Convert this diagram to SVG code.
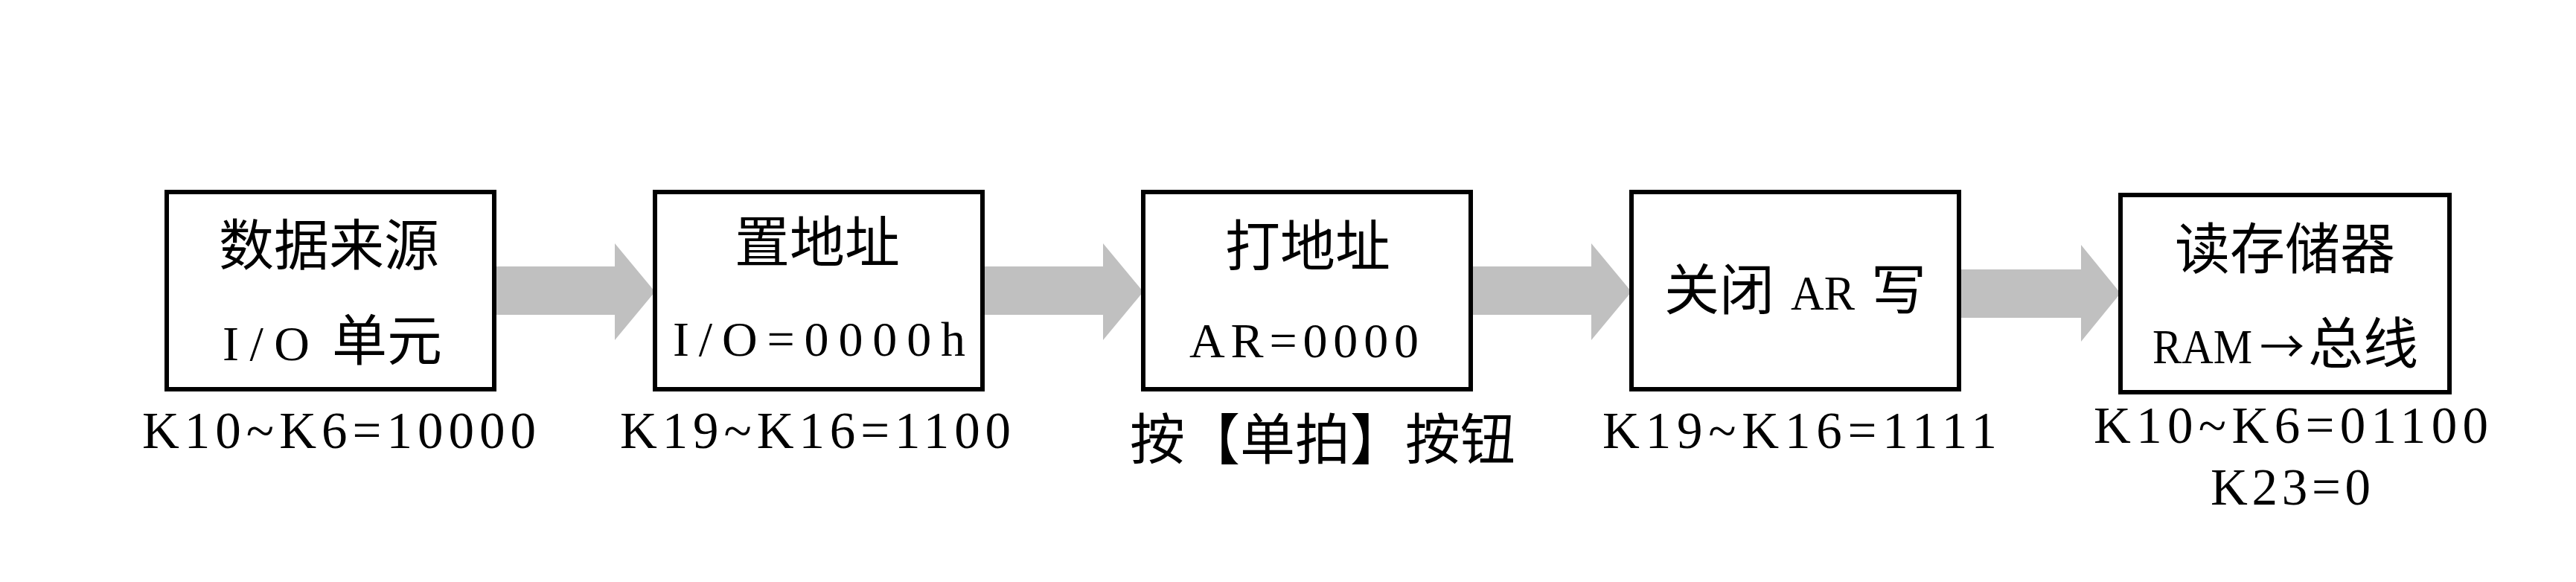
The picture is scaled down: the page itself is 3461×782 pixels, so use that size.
<svg xmlns="http://www.w3.org/2000/svg" width="3461" height="782" viewBox="0 0 3461 782">
<style>
.box{fill:#ffffff;stroke:#000000;stroke-width:6}
.arr{fill:#c0c0c0;stroke:none}
.cjk{font-family:"Noto Sans CJK SC","Noto Sans CJK JP",sans-serif;font-size:74px;fill:#000}
.mono{font-family:"Liberation Serif","DejaVu Serif",serif;font-size:66px;fill:#000}
.lbl{font-family:"Liberation Serif","DejaVu Serif",serif;font-size:69px;fill:#000}
</style>
<rect x="0" y="0" width="3461" height="782" fill="#ffffff"/>
<g id="connectors">
<polygon class="arr" points="664,358 826,358 826,327 880,392 826,457 826,423 664,423"/>
<polygon class="arr" points="1320,358 1482,358 1482,327 1536,392 1482,457 1482,423 1320,423"/>
<polygon class="arr" points="1976,358 2138,358 2138,327 2192,392 2138,457 2138,423 1976,423"/>
<polygon class="arr" points="2632,362 2796,362 2796,329 2849,394 2796,459 2796,427 2632,427"/>
</g>
<g id="node1">
<rect class="box" x="224" y="258" width="440" height="265"/>
<text class="cjk" x="442" y="356" text-anchor="middle">数据来源</text>
<text class="cjk" y="484"><tspan class="mono" x="299" textLength="117" lengthAdjust="spacing">I/O</tspan><tspan x="446">单元</tspan></text>
</g>
<g id="node2">
<rect class="box" x="880" y="258" width="440" height="265"/>
<text class="cjk" x="1098" y="352" text-anchor="middle">置地址</text>
<text class="mono" x="904" y="478" textLength="393" lengthAdjust="spacing">I/O=0000h</text>
</g>
<g id="node3">
<rect class="box" x="1536" y="258" width="440" height="265"/>
<text class="cjk" x="1757" y="357" text-anchor="middle">打地址</text>
<text class="mono" x="1598" y="480" textLength="308" lengthAdjust="spacing">AR=0000</text>
</g>
<g id="node4">
<rect class="box" x="2192" y="258" width="440" height="265"/>
<text class="cjk" y="416"><tspan x="2236">关闭</tspan><tspan class="mono" x="2406" textLength="86" lengthAdjust="spacingAndGlyphs">AR</tspan><tspan x="2514">写</tspan></text>
</g>
<g id="node5">
<rect class="box" x="2849" y="262" width="442" height="265"/>
<text class="cjk" x="3070" y="361" text-anchor="middle">读存储器</text>
<text class="cjk" y="488"><tspan class="mono" x="2892" font-size="60" textLength="134" lengthAdjust="spacingAndGlyphs">RAM</tspan><tspan x="3036" font-size="60">→</tspan><tspan x="3101">总线</tspan></text>
</g>
<g id="labels">
<text class="lbl" x="191" y="602" textLength="529" lengthAdjust="spacing">K10~K6=10000</text>
<text class="lbl" x="833" y="602" textLength="525" lengthAdjust="spacing">K19~K16=1100</text>
<text class="cjk" x="1777" y="617" text-anchor="middle">按【单拍】按钮</text>
<text class="lbl" x="2153" y="602" textLength="530" lengthAdjust="spacing">K19~K16=1111</text>
<text class="lbl" x="2813" y="595" textLength="530" lengthAdjust="spacing">K10~K6=01100</text>
<text class="lbl" x="2970" y="678" textLength="215" lengthAdjust="spacing">K23=0</text>
</g>
</svg>
